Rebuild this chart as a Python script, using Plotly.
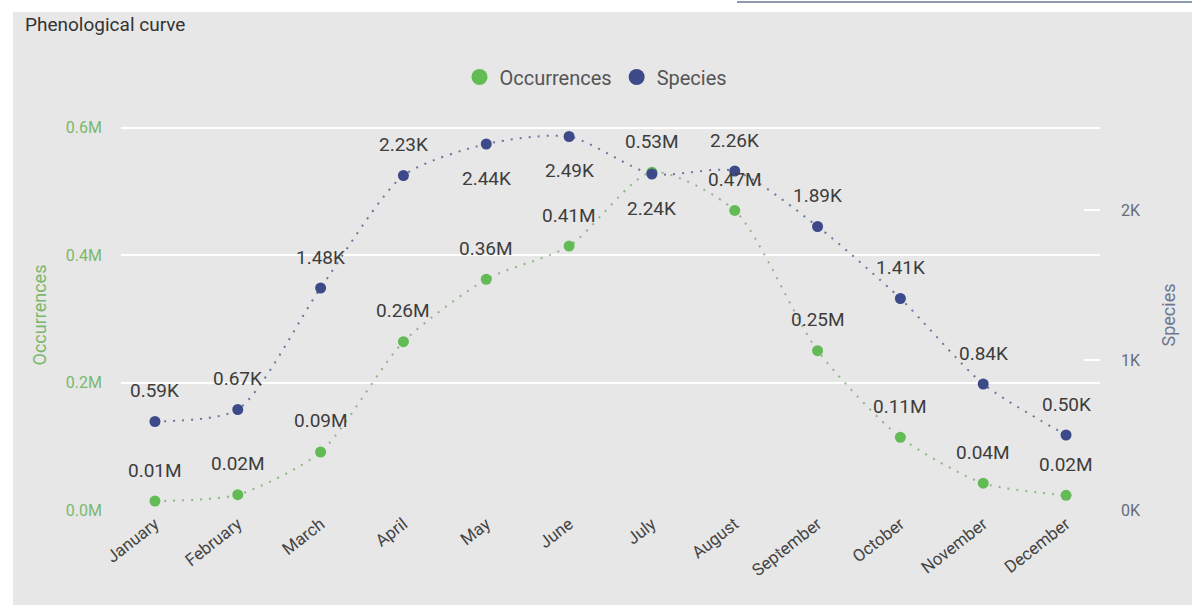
import plotly.graph_objects as go

months = ["January", "February", "March", "April", "May", "June", "July",
          "August", "September", "October", "November", "December"]
occurrences = [0.014e6, 0.024e6, 0.091e6, 0.264e6, 0.362e6, 0.414e6, 0.530e6,
               0.470e6, 0.250e6, 0.114e6, 0.042e6, 0.023e6]
occ_labels = ["0.01M", "0.02M", "0.09M", "0.26M", "0.36M", "0.41M", "0.53M",
              "0.47M", "0.25M", "0.11M", "0.04M", "0.02M"]
species = [590, 670, 1480, 2230, 2440, 2490, 2240, 2260, 1890, 1410, 840, 500]
sp_labels = ["0.59K", "0.67K", "1.48K", "2.23K", "2.44K", "2.49K", "2.24K",
             "2.26K", "1.89K", "1.41K", "0.84K", "0.50K"]
sp_label_below = [False, False, False, False, True, True, True,
                  False, False, False, False, False]
occ_ticks = [0, 0.2e6, 0.4e6, 0.6e6]
occ_ticktext = ["0.0M", "0.2M", "0.4M", "0.6M"]
sp_ticks = [0, 1000, 2000]
sp_ticktext = ["0K", "1K", "2K"]

GREEN = "#63bb55"
NAVY = "#3c4a8a"
FONT = "Roboto"

fig = go.Figure()
fig.add_trace(go.Scatter(
    x=months, y=occurrences, name="Occurrences", mode="lines+markers",
    line=dict(color="rgba(120,170,110,0.8)", width=2, dash="2px,7px", shape="spline", smoothing=0.7),
    marker=dict(color=GREEN, size=11), yaxis="y", showlegend=False,
))
fig.add_trace(go.Scatter(
    x=months, y=species, name="Species", mode="lines+markers",
    line=dict(color="rgba(80,90,140,0.8)", width=2, dash="2px,7px", shape="spline", smoothing=0.7),
    marker=dict(color=NAVY, size=11), yaxis="y2", showlegend=False,
))
# legend entries
fig.add_trace(go.Scatter(x=[None], y=[None], name="Occurrences", mode="markers",
                         marker=dict(color=GREEN, size=20), showlegend=True))
fig.add_trace(go.Scatter(x=[None], y=[None], name="Species", mode="markers",
                         marker=dict(color=NAVY, size=20), showlegend=True, yaxis="y2"))

annotations = []
for m, v, t in zip(months, occurrences, occ_labels):
    annotations.append(dict(x=m, y=v, xref="x", yref="y", text=t, showarrow=False,
                            yshift=31, font=dict(family=FONT, size=19, color="#3d3d3d")))
for m, v, t, below in zip(months, species, sp_labels, sp_label_below):
    annotations.append(dict(x=m, y=v, xref="x", yref="y2", text=t, showarrow=False,
                            yshift=-34 if below else 31,
                            font=dict(family=FONT, size=19, color="#3d3d3d")))

# plot area: x 121..1100, y 120..510
L, R, T, B = 121, 100, 120, 99
W, H = 1200, 609
pw, ph = W - L - R, H - T - B

def px(xp):
    return (xp - L) / pw

def py(yp):
    return (H - B - yp) / ph

shapes = [
    dict(type="rect", xref="paper", yref="paper", x0=px(13), x1=px(1192), y0=py(605), y1=py(12),
         fillcolor="#e7e7e7", line=dict(width=0), layer="below"),
    dict(type="line", xref="paper", yref="paper", x0=px(737), x1=px(1192), y0=py(2), y1=py(2),
         line=dict(color="#8d9ab0", width=2)),
]

fig.update_layout(
    width=W, height=H,
    margin=dict(l=L, r=R, t=T, b=B, pad=0),
    paper_bgcolor="white",
    plot_bgcolor="rgba(0,0,0,0)",
    font=dict(family=FONT, color="#444"),
    title=dict(text="Phenological curve", x=25 / W, xanchor="left", y=1 - 24 / H, yanchor="middle",
               xref="container", yref="container", font=dict(family=FONT, size=19, color="#333")),
    legend=dict(orientation="h", x=px(596), y=py(77), xanchor="center", yanchor="middle",
                font=dict(family=FONT, size=20, color="#555"), bgcolor="rgba(0,0,0,0)",
                itemsizing="trace", tracegroupgap=0, itemwidth=30),
    xaxis=dict(range=[-0.41, 11.41], showgrid=False, zeroline=False, showline=False,
               tickangle=-38, tickfont=dict(family=FONT, size=17, color="#444"), ticks=""),
    yaxis=dict(range=[0, 0.6118e6], tickvals=occ_ticks, ticktext=occ_ticktext,
               showgrid=True, gridcolor="white", gridwidth=2, zeroline=False, showline=False,
               tickfont=dict(family=FONT, size=16, color="#7ab86c"),
               ticklabelstandoff=18,
               title=dict(text="Occurrences", font=dict(family=FONT, size=18, color="#7ab86c"), standoff=14)),
    yaxis2=dict(range=[0, 2600], tickvals=sp_ticks, ticktext=sp_ticktext, overlaying="y", side="right",
                showgrid=False, zeroline=False, showline=False,
                ticks="inside", ticklen=16, tickcolor="white", tickwidth=2,
                tickfont=dict(family=FONT, size=16, color="#666c7c"),
                ticklabelstandoff=20,
                title=dict(text="Species", font=dict(family=FONT, size=18, color="#6d7891"), standoff=22)),
    annotations=annotations,
    shapes=shapes,
)

fig.write_html("out.html", config={"displayModeBar": False},
               post_script="document.body.style.margin='0';document.body.style.overflow='hidden';")
